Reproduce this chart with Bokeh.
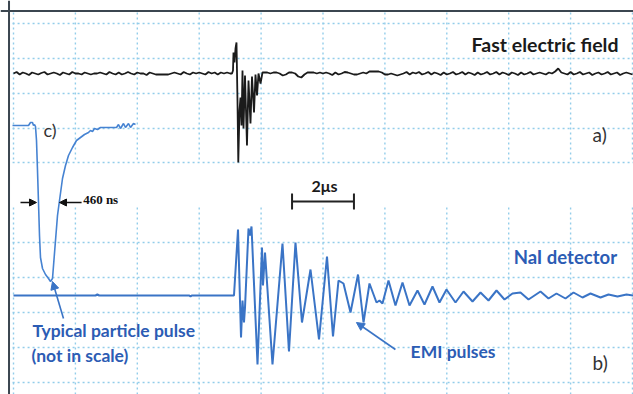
import numpy as np
from bokeh.plotting import figure
from bokeh.models import Range1d, Label, Arrow, NormalHead, Span
from bokeh.embed import file_html
from bokeh.resources import INLINE

# ---------------- data ----------------
# grid: vertical divisions every 2 us, horizontal divisions per panel (a.u.)
GRID_T_US = [0, 2, 4, 6, 8, 10, 12, 14, 16, 18, 20]
GRID_A = [50, 15, -20, -55, -89]
GRID_B = [53, 18, -17, -52, -87]

# a) fast electric field (a.u.), sampled every 0.1 us before / after the burst
TOP_DT_US = 0.1
TOP_PRE_START_US = 0.0
TOP_PRE_V = [0, 1.5, -1, 1, 0, -1.5, 1, 0, -1, 0.5, 1.5, -1, 0, 1, 0, -1.5, 1, 0, -1, 1.5, 0, 0, -1, 1, 0, -1,
             0, 0, 1, 0, -1, 1.5, 0, -1, 1, -1, 0, 1.5, 0, -1, 1, 0, 0, -1.5, 1, 0, -1, -1, -1, -1, -1,
             0, 1, 0, -1, 1.5, 0, -1, 1, 0, 1, 0, -1, 1.5, 0, 1, -1, 1, 0, 1, 0]
TOP_BURST_T_US = [7.060, 7.092, 7.108, 7.140, 7.173, 7.205, 7.237, 7.263, 7.302, 7.334, 7.367, 7.399,
                  7.431, 7.480, 7.544, 7.593, 7.657, 7.706, 7.771, 7.819, 7.868, 7.916, 7.981, 8.045]
TOP_BURST_V = [0, 3, 21, 11, 25, 31, -27, -89, -37, -24, -52, 3,
               -55, -2, -72, -7, -50, -3, -39, -1, -22, 0, -10, 1]
TOP_POST_START_US = 8.1
TOP_POST_V = [1, 1, 0, 1, 1, 0, -2, -1, 1, 1,
              0, -3, -4, -1, 1, 1, 1, 0, 1, 0,
              1, 0, -1.5, 1, -1, 0, 1.5, 1, 0, -1,
              -1, 0, 1, 0, 2, 2, 2, 2, 1, -1,
              -1, 0, -1, -2, -1, 0, 1.5, -1, 1, 0,
              1.5, -1, 0, 1.5, -1, 1, 0, -1.5, 1, -1,
              0, 1.5, -1, 0, 1.5, -1, 1, 0, -1.5, 1,
              -1, 0, 1.5, -1, 0, 1.5, -1, 1, 0, -1.5,
              1, 0, -1.5, 1, -1, 0, 1.5, -1, 0, 1,
              0, -1, 1, 0, 2, 5, 1, 0, -1, 1.5,
              -1, 0, 1.5, -1, 0, 1, -1.5, 0, 1, -1,
              0, 1.5, -1, 0, 1, -1.5, 0, 1, 0, -1]

# b) NaI detector signal (a.u.)
NAI_T_US = [0.0, 2.65, 2.71, 2.77, 5.68, 5.72, 5.76, 7.124, 7.254, 7.351, 7.399, 7.447, 7.480,
            7.593, 7.641, 7.690, 7.884, 8.029, 8.061, 8.126, 8.368, 8.691, 8.901, 9.111, 9.321,
            9.596, 9.871, 10.129, 10.323, 10.501, 10.662, 10.889, 11.131, 11.309, 11.502, 11.729,
            11.826, 11.922, 12.116, 12.342, 12.569, 12.795, 13.053, 13.279, 13.538, 13.764, 13.990,
            14.281, 14.540, 14.831, 15.089, 15.347, 15.606, 15.864, 16.123, 16.381, 16.640, 17.027,
            17.286, 17.544, 17.835, 18.094, 18.384, 18.643, 18.966, 19.225, 19.515, 19.806, 20.03]
NAI_V = [0, 0, 1, 0, 0, -1, 0, 0, 66, -42, -5, -27, -12,
         67, 60, 69, -69, 48, 10, 43, -69, 52, -56, 53, -27,
         26, -44, 39, -41, 15, 12, -17, 21, -27, 12, -7,
         -5, -8, 15, -10, 13, -10, 5, -9, 9, -7, 6,
         -7, 4, -6, 3, -5, 5, -4, 2, 3, -4, 4,
         -3, 2, -3, 3, -2, 2, -2, 1, -1, 1, 0]

# c) typical particle pulse (inset, time in ns, a.u.)
PULSE_T_NS = [0, 160, 320, 360, 400, 420, 440, 460, 480, 500, 520, 540, 560, 600, 660, 720, 760,
              800, 860, 900, 940, 1000, 1060, 1120, 1200, 1280, 1360, 1440, 1520, 1560, 1600, 1640,
              1700, 1760, 1840, 1960, 2080, 2120, 2160, 2220, 2260, 2320, 2360, 2420, 2460]
PULSE_V = [0, 0, 0, 3, 3, 0, 1, -1, -15, -45, -77, -110, -132, -143, -149, -153, -156,
           -153, -115, -90, -75, -53, -40, -30, -22, -15, -12, -9, -7, -5, -6, -3,
           -4, -2, -2, -2, -2, 1, -3, 2, -2, 2, -2, 2, 1]

SCALE_BAR_US = 2.0

# ---------------- figure ----------------
BLUE_LINE = "#3a74c6"
BLUE_TEXT = "#2c5cb4"
GRID_COLOR = "#93cdea"

p = figure(width=633, height=394,
           x_range=Range1d(-0.42003, 20.0323), y_range=Range1d(-321, 73),
           x_axis_location=None, y_axis_location=None,
           toolbar_location=None, output_backend="svg", min_border=0,
           background_fill_color="white", border_fill_color="white",
           outline_line_color=None)
p.grid.visible = False
p.extra_y_ranges = {"b": Range1d(-99, 295), "inset": Range1d(-269, 125)}
p.extra_x_ranges = {"inset": Range1d(-240, 12420)}

gkw = dict(line_color=GRID_COLOR, line_width=1.4, line_dash="2 3")
n = len(GRID_T_US)
# top panel grid
p.segment(x0=GRID_T_US, y0=[61] * n, x1=GRID_T_US, y1=[-89] * n, **gkw)
p.segment(x0=[-0.03] * len(GRID_A), y0=GRID_A, x1=[20.03] * len(GRID_A), y1=GRID_A, **gkw)
# bottom panel grid
p.segment(x0=GRID_T_US, y0=[88] * n, x1=GRID_T_US, y1=[-99] * n, y_range_name="b", **gkw)
p.segment(x0=[-0.03] * len(GRID_B), y0=GRID_B, x1=[20.03] * len(GRID_B), y1=GRID_B,
          y_range_name="b", **gkw)

# border (left and top)
p.add_layout(Span(location=-0.145, dimension="height", line_color="#3b4650", line_width=2))
p.add_layout(Span(location=62.5, dimension="width", line_color="#3b4650", line_width=2))

# a) trace
pre_t = TOP_PRE_START_US + TOP_DT_US * np.arange(len(TOP_PRE_V))
post_t = TOP_POST_START_US + TOP_DT_US * np.arange(len(TOP_POST_V))
top_t = np.concatenate([pre_t, TOP_BURST_T_US, post_t])
top_v = np.concatenate([TOP_PRE_V, TOP_BURST_V, TOP_POST_V])
p.line(top_t, top_v, line_color="#1b1b1b", line_width=1.8)

# b) trace
p.line(NAI_T_US, NAI_V, y_range_name="b", line_color=BLUE_LINE, line_width=2)

# c) inset pulse
p.line(PULSE_T_NS, PULSE_V, x_range_name="inset", y_range_name="inset",
       line_color="#4683d2", line_width=1.6)

# 2 us scale bar
sb0 = 9.0
p.segment(x0=[sb0], y0=[-128], x1=[sb0 + SCALE_BAR_US], y1=[-128], line_color="#222222", line_width=2)
p.segment(x0=[sb0, sb0 + SCALE_BAR_US], y0=[-120, -120], x1=[sb0, sb0 + SCALE_BAR_US], y1=[-136, -136],
          line_color="#222222", line_width=2)

# 460 ns arrows
p.add_layout(Arrow(end=NormalHead(size=7, fill_color="#111111", line_color="#111111"),
                   x_start=0.226, y_start=-129, x_end=0.743, y_end=-129,
                   line_color="#111111", line_width=1.5))
p.add_layout(Arrow(end=NormalHead(size=7, fill_color="#111111", line_color="#111111"),
                   x_start=2.2, y_start=-129, x_end=1.486, y_end=-129,
                   line_color="#111111", line_width=1.5))

# pointer arrows
p.add_layout(Arrow(end=NormalHead(size=8, fill_color=BLUE_LINE, line_color=BLUE_LINE),
                   x_start=1.615, y_start=-23, x_end=1.26, y_end=14, y_range_name="b",
                   line_color=BLUE_LINE, line_width=1.6))
p.add_layout(Arrow(end=NormalHead(size=8, fill_color=BLUE_LINE, line_color=BLUE_LINE),
                   x_start=12.34, y_start=-54, x_end=11.08, y_end=-27, y_range_name="b",
                   line_color=BLUE_LINE, line_width=1.6))

DY = 7.5  # text baseline correction

def lab(text, x, y, size, color, bold=True, font="Lato", yr="default", align="left"):
    p.add_layout(Label(x=x, y=y + DY, text=text, text_font=font, text_font_size=f"{size}px",
                       text_font_style="bold" if bold else "normal", text_color=color,
                       text_baseline="alphabetic", text_align=align, y_range_name=yr))

lab("Fast electric field", 14.80, 21.5, 19.5, "#1a1a1a")
lab("a)", 18.71, -68, 19, "#333333", bold=False)
lab("c)", 0.97, -64, 18, "#333333", bold=False)
lab("460 ns", 2.25, -133.5, 13, "#111111", font="Liberation Serif")
lab("2\u03bcs", 10.05, -119, 16, "#1a1a1a", align="center")
lab("NaI detector", 16.16, 31, 18.5, BLUE_TEXT, yr="b")
lab("Typical  particle pulse", 0.61, -42.5, 17.5, BLUE_TEXT, yr="b")
lab("(not in scale)", 0.58, -67, 17.5, BLUE_TEXT, yr="b")
lab("EMI pulses", 12.83, -63.5, 17.5, BLUE_TEXT, yr="b")
lab("b)", 18.71, -74, 19, "#333333", bold=False, yr="b")

open("out.html", "w").write(file_html(p, INLINE))
